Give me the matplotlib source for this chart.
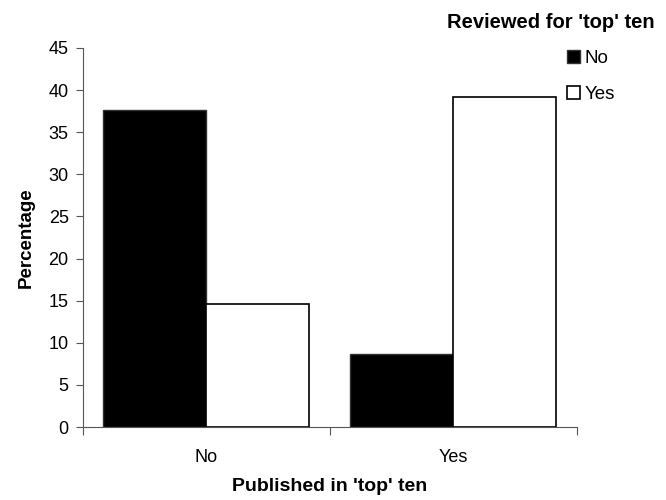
import numpy as np
import matplotlib.pyplot as plt

plt.rcParams['font.family'] = ['Liberation Sans', 'DejaVu Sans']

# data
published = ['No', 'Yes']
reviewed = ['No', 'Yes']
pct_reviewed_no = [37.6, 8.7]
pct_reviewed_yes = [14.6, 39.2]

fig = plt.figure(figsize=(6.66, 5), dpi=100)
ax = fig.add_axes([0.124, 0.146, 0.742, 0.758])

x = np.arange(len(published))
w = 0.417
b1 = ax.bar(x - w/2, pct_reviewed_no, w, color='black', edgecolor='#333333', linewidth=1, label=reviewed[0])
b2 = ax.bar(x + w/2, pct_reviewed_yes, w, color='white', edgecolor='black', linewidth=1.2, label=reviewed[1])

ax.set_xlim(-0.5, 1.5)
ax.set_ylim(0, 45)
ax.set_yticks(np.arange(0, 46, 5))
ax.set_xticks([-0.5, 0.5, 1.5])
ax.set_xticklabels([])
ax.set_xticks(x, minor=True)
ax.set_xticklabels(published, minor=True)
ax.tick_params(axis='x', which='minor', length=0, pad=16, labelsize=13)
ax.tick_params(axis='x', which='major', length=6, color='#555555')
ax.tick_params(axis='y', length=5, color='#555555', labelsize=13, pad=5)

for s in ['top', 'right']:
    ax.spines[s].set_visible(False)
for s in ['left', 'bottom']:
    ax.spines[s].set_color('#555555')

ax.set_ylabel('Percentage', fontsize=13.5, fontweight='bold')
ax.yaxis.set_label_coords(-0.096, 0.5)
ax.set_xlabel("Published in 'top' ten", fontsize=14, fontweight='bold')
ax.xaxis.set_label_coords(0.5, -0.135)

fig.text(0.671, 0.955, "Reviewed for 'top' ten", fontsize=14.5, fontweight='bold', va='center')
fig.legend(handles=[b1, b2], loc='upper left', bbox_to_anchor=(0.851, 0.9),
           frameon=False, fontsize=13.5, handlelength=0.7, handleheight=0.7,
           handletextpad=0.25, labelspacing=1.0, borderpad=0, borderaxespad=0)

fig.savefig('out.png', dpi=100)
